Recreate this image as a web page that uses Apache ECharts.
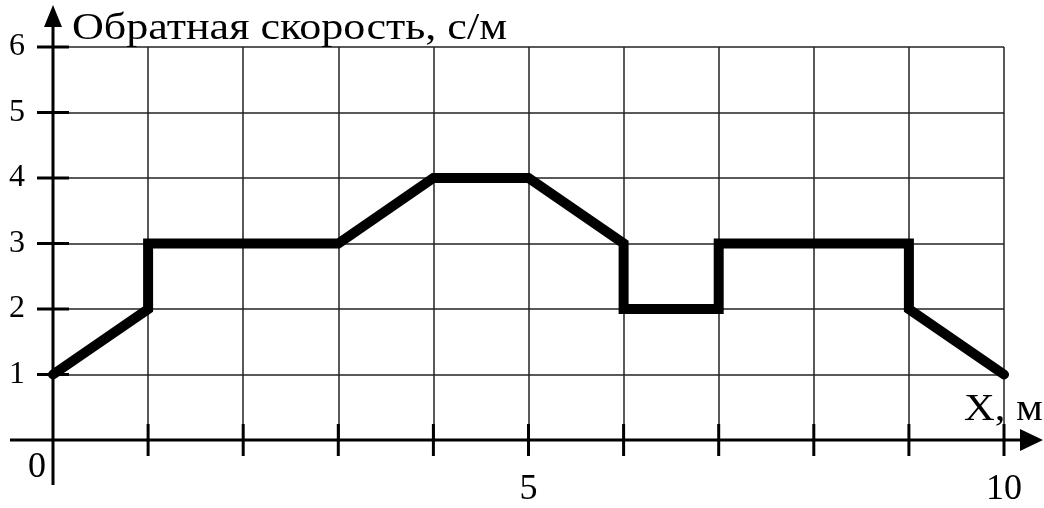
<!DOCTYPE html>
<html>
<head>
<meta charset="utf-8">
<script src="https://cdn.jsdelivr.net/npm/echarts@6/dist/echarts.min.js"></script>
<style>
html,body{margin:0;padding:0;background:#fff;}
#chart{width:1044px;height:508px;}
</style>
</head>
<body>
<div id="chart"></div>
<script>
// Data
var xValues = [0, 1, 1, 3, 4, 5, 6, 6, 7, 7, 9, 9, 10];
var yValues = [1, 2, 3, 3, 4, 4, 3, 2, 2, 3, 3, 2, 1];
var xTickLabels = [5, 10];
var yTickLabels = [1, 2, 3, 4, 5, 6];
var yTitle = 'Обратная скорость, с/м';
var xTitle = 'X, м';
var originLabel = '0';

var FONT = '"Liberation Serif", "Times New Roman", serif';
var chart = echarts.init(document.getElementById('chart'), null, {renderer: 'canvas'});
var points = xValues.map(function (x, i) { return [x, yValues[i]]; });

chart.setOption({
  animation: false,
  backgroundColor: '#fff',
  grid: {left: 53, right: 40, top: 47, bottom: 68},
  xAxis: {
    type: 'value', min: 0, max: 10, interval: 1,
    axisLine: {show: false}, axisTick: {show: false},
    splitLine: {show: true, lineStyle: {color: '#222', width: 1.5}},
    axisLabel: {
      margin: 32, color: '#000', fontFamily: FONT, fontSize: 36,
      formatter: function (v) { return xTickLabels.indexOf(v) >= 0 ? String(v) : ''; }
    }
  },
  yAxis: {
    type: 'value', min: 0, max: 6, interval: 1,
    axisLine: {show: false}, axisTick: {show: false},
    splitLine: {show: true, lineStyle: {color: '#222', width: 1.5}},
    axisLabel: {
      margin: 28, color: '#000', fontFamily: FONT, fontSize: 32, padding: [6, 0, 0, 0],
      formatter: function (v) { return yTickLabels.indexOf(v) >= 0 ? String(v) : ''; }
    }
  },
  series: [{
    type: 'line', data: points, symbol: 'none',
    lineStyle: {color: '#000', width: 10, join: 'miter', cap: 'round'}
  }]
});

function px(x, y) { return chart.convertToPixel({gridIndex: 0}, [x, y]); }
var o = px(0, 0);
var g = [];
var AX = {stroke: '#000', lineWidth: 3};
// axes
g.push({type: 'line', shape: {x1: o[0], y1: 485, x2: o[0], y2: 20}, style: AX, z: 10});
g.push({type: 'polygon', shape: {points: [[o[0], 5], [o[0] - 9, 27], [o[0] + 9, 27]]}, style: {fill: '#000'}, z: 10});
g.push({type: 'line', shape: {x1: 10, y1: o[1], x2: 1025, y2: o[1]}, style: AX, z: 10});
g.push({type: 'polygon', shape: {points: [[1043, o[1]], [1020, o[1] - 11], [1020, o[1] + 11]]}, style: {fill: '#000'}, z: 10});
// ticks
for (var i = 1; i <= 10; i++) {
  var p = px(i, 0);
  g.push({type: 'line', shape: {x1: p[0], y1: p[1] - 16, x2: p[0], y2: p[1] + 16}, style: AX, z: 10});
}
for (var j = 1; j <= 6; j++) {
  var q = px(0, j);
  g.push({type: 'line', shape: {x1: q[0] - 16, y1: q[1], x2: q[0] + 16, y2: q[1]}, style: AX, z: 10});
}
// texts
g.push({type: 'text', x: 37, y: 468, style: {text: originLabel, font: '36px ' + FONT, fill: '#000', align: 'center', verticalAlign: 'middle'}, z: 10});
g.push({type: 'text', x: 72, y: 48, scaleX: 1.16, style: {text: yTitle, font: '38px ' + FONT, fill: '#000', align: 'left', verticalAlign: 'bottom'}, z: 10});
g.push({type: 'text', x: 964, y: 429, scaleX: 1.12, style: {text: xTitle, font: '38px ' + FONT, fill: '#000', align: 'left', verticalAlign: 'bottom'}, z: 10});
chart.setOption({graphic: g});
</script>
</body>
</html>
